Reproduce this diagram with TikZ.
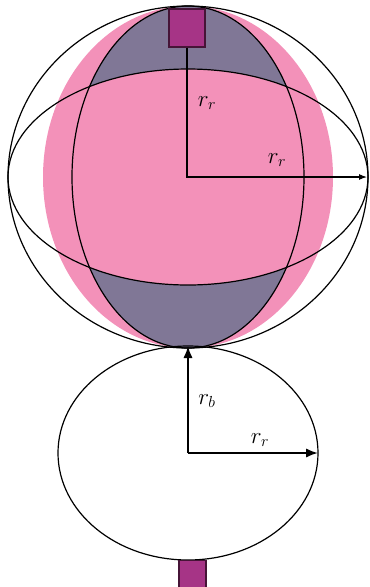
\documentclass[tikz,border=0pt]{standalone}
\usepackage{amsmath}
\usetikzlibrary{arrows.meta}

\definecolor{pinkfill}{RGB}{243,145,185}
\definecolor{capfill}{RGB}{128,119,150}
\definecolor{sqfill}{RGB}{166,52,134}
\definecolor{sqline}{RGB}{70,20,55}

\tikzset{
    outline/.style = {line width = 0.9pt},
    sensor/.style = {draw = sqline, fill = sqfill, line width = 0.8pt, inner sep = 0pt},
    radius/.style = {font = \LARGE}
}

\begin{document}
\begin{tikzpicture}[x = 0.75pt, y = -0.75pt]
        \useasboundingbox (0,0) rectangle (369,587);
        \clip (0,0) rectangle (369,587);
        % upper body
        \coordinate (top) at (188,177);
        \fill[pinkfill] (top) ellipse [x radius = 145, y radius = 171];
        \fill[capfill] (top) ellipse [x radius = 116, y radius = 171];
        \begin{scope}
            \clip (top) ellipse [x radius = 116, y radius = 171];
            \fill[pinkfill] (top) ellipse [x radius = 180, y radius = 108];
        \end{scope}
        \draw[outline] (top) ellipse [x radius = 180, y radius = 171];
        \draw[outline] (top) ellipse [x radius = 180, y radius = 108];
        \draw[outline] (top) ellipse [x radius = 116, y radius = 171];
        \node[sensor, minimum width = 27pt, minimum height = 28.5pt] (tsq) at (187,28) {};
        \coordinate (tr) at (367,177);
        \draw[-{Latex[length = 6pt, width = 4.5pt]}, line width = 0.8pt] (tsq.south) |- (tr);
        \node[radius] (l1) at (207,103) {$r_r$};
        \node[radius] (l2) at (277,160) {$r_r$};
        % lower body
        \coordinate (bot) at (188,453);
        \draw[outline] (bot) ellipse [x radius = 130, y radius = 107];
        \coordinate (bt) at (188,346);
        \coordinate (br) at (318,453);
        \draw[-{Latex[length = 9pt, width = 7pt]}, line width = 1.5pt] (bot) -- (bt);
        \draw[-{Latex[length = 9pt, width = 7pt]}, line width = 1.5pt] (bot) -- (br);
        \node[radius] (l3) at (207,401) {$r_b$};
        \node[radius] (l4) at (260,440) {$r_r$};
        \node[sensor, minimum width = 20.25pt, minimum height = 30pt, anchor = north] (bsq) at (192.5,560) {};
    \end{tikzpicture}
\end{document}
